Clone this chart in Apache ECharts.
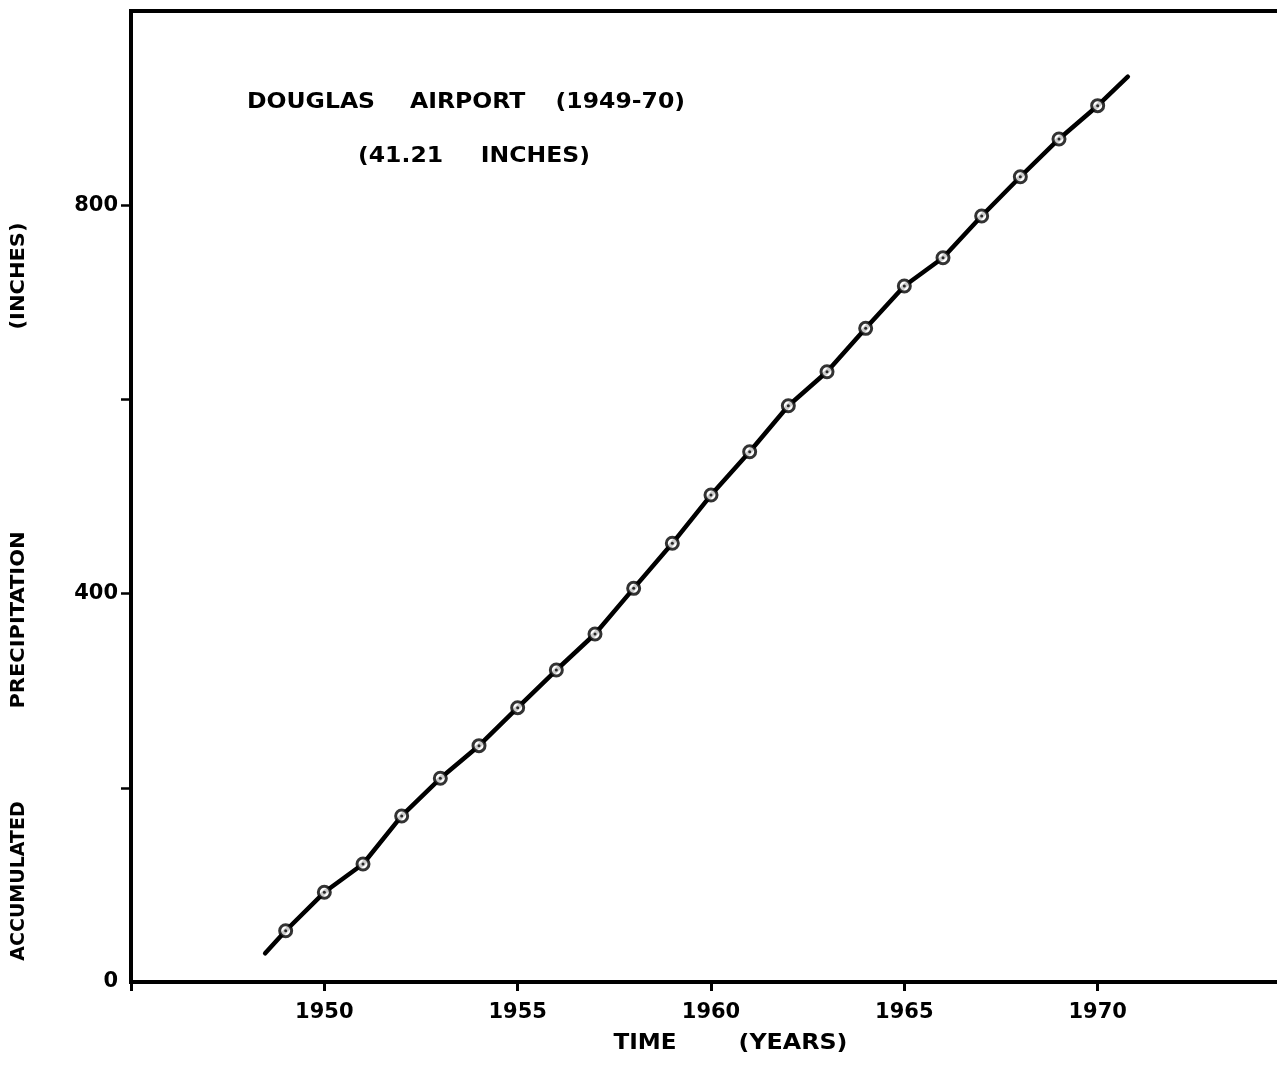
<!DOCTYPE html>
<html>
<head>
<meta charset="utf-8">
<script src="https://cdn.jsdelivr.net/npm/echarts@6/dist/echarts.min.js"></script>
<style>
  html, body { margin: 0; padding: 0; background: #fff; }
  #chart { width: 1277px; height: 1067px; }
</style>
</head>
<body>
<div id="chart"></div>
<script>
// Accumulated precipitation at Douglas Airport, one reading per year
const years = [1949, 1950, 1951, 1952, 1953, 1954, 1955, 1956, 1957, 1958, 1959,
               1960, 1961, 1962, 1963, 1964, 1965, 1966, 1967, 1968, 1969, 1970];
const accumulated = [52.8, 92.4, 121.5, 171.0, 209.8, 243.4, 282.5, 321.3, 358.4, 405.4, 451.8,
                     501.5, 546.1, 593.5, 628.5, 673.2, 716.8, 745.9, 788.9, 829.3, 868.2, 902.5];

// Ends of the drawn mass curve, past the first and last readings
const curveStart = [1948.47, 29.6];
const curveEnd = [1970.78, 932.3];

// Ticks and their labels
const xTickLabels = [1950, 1955, 1960, 1965, 1970];
const yTicks = [200, 400, 600, 800];
const yTickLabels = [0, 400, 800];

const points = years.map((y, i) => [y, accumulated[i]]);
const curve = [curveStart].concat(points, [curveEnd]);

const FAMILY = '"DejaVu Sans", "Liberation Sans", Arial, sans-serif';

const chart = echarts.init(document.getElementById('chart'), null, { renderer: 'canvas' });

// One lettered word of the titles; scaleX widens the lettering along its baseline
function word(text, x, y, align, size, scaleX, rotation) {
  return {
    type: 'text', x: x, y: y, rotation: rotation || 0, scaleX: scaleX || 1,
    style: { text: text, font: 'bold ' + size + 'px ' + FAMILY, fill: '#000', align: align, verticalAlign: 'middle' }
  };
}

chart.setOption({
  animation: false,
  backgroundColor: '#fff',
  grid: {
    left: 131, top: 11, right: -14, bottom: 85,
    outerBoundsMode: 'none',
    containLabel: false,
    show: true, borderColor: '#000', borderWidth: 4, backgroundColor: 'transparent'
  },
  xAxis: {
    type: 'value', min: 1945, max: 1975, interval: 5,
    axisLine: { show: true, onZero: false, lineStyle: { color: '#000', width: 4 } },
    axisTick: { show: true, inside: false, length: 9, lineStyle: { color: '#000', width: 3 } },
    splitLine: { show: false },
    axisLabel: {
      margin: 20, color: '#000',
      fontFamily: FAMILY, fontWeight: 'bold', fontSize: 21,
      formatter: v => (xTickLabels.indexOf(v) >= 0 ? String(v) : '')
    }
  },
  yAxis: {
    type: 'value', min: 0, max: 1000, interval: 200,
    axisLine: { show: true, lineStyle: { color: '#000', width: 4 } },
    axisTick: { show: true, length: 10, customValues: yTicks, lineStyle: { color: '#000', width: 2.5 } },
    splitLine: { show: false },
    axisLabel: {
      margin: 13, color: '#000', customValues: yTickLabels,
      fontFamily: FAMILY, fontWeight: 'bold', fontSize: 21,
      formatter: v => String(v)
    }
  },
  series: [
    {
      name: 'curve', type: 'line', data: curve, symbol: 'none', smooth: false,
      lineStyle: { color: '#000', width: 4.5, cap: 'round', join: 'round' },
      z: 2
    },
    {
      name: 'readings', type: 'scatter', data: points, symbol: 'circle', symbolSize: 12,
      itemStyle: { color: '#fff', borderColor: '#000', borderWidth: 3 },
      z: 3
    },
    {
      name: 'reading centres', type: 'scatter', data: points, symbol: 'circle', symbolSize: 3,
      itemStyle: { color: '#000' },
      z: 4
    }
  ],
  graphic: [
    word('DOUGLAS', 247, 103, 'left', 21, 1.12),
    word('AIRPORT', 410, 103, 'left', 21, 1.12),
    word('(1949-70)', 685, 103, 'right', 21, 1.12),
    word('(41.21', 358, 157, 'left', 21, 1.12),
    word('INCHES)', 590, 157, 'right', 21, 1.12),
    word('TIME', 645, 1043, 'center', 22, 1.05),
    word('(YEARS)', 793, 1043, 'center', 22, 1.08),
    word('ACCUMULATED', 19, 881, 'center', 20, 0.95, Math.PI / 2),
    word('PRECIPITATION', 19, 620, 'center', 20, 1.05, Math.PI / 2),
    word('(INCHES)', 19, 276, 'center', 20, 1.05, Math.PI / 2)
  ]
});
</script>
</body>
</html>
